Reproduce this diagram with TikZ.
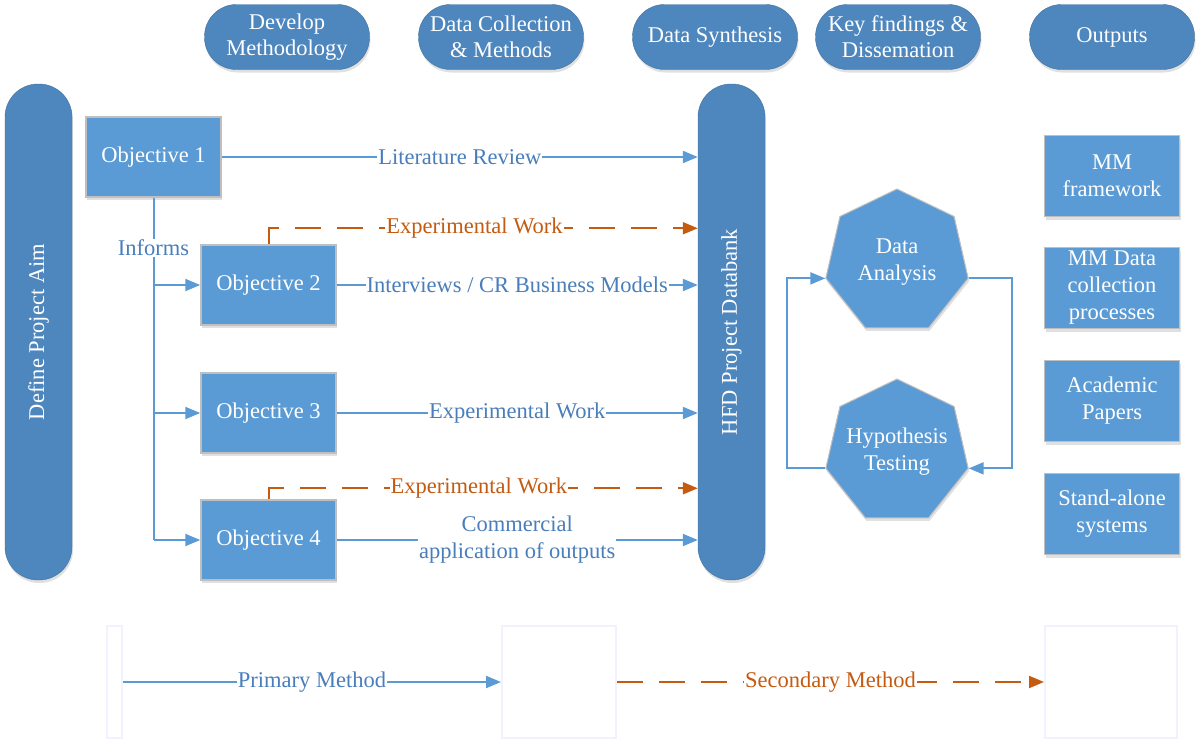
\documentclass[tikz,border=0pt]{standalone}
\usepackage{fontspec}
\setmainfont{Liberation Serif}
\usetikzlibrary{arrows.meta,shapes.geometric,shadows,positioning}

\definecolor{boxblue}{HTML}{5B9BD5}
\definecolor{pillblue}{HTML}{4E86BE}
\definecolor{pillline}{HTML}{41719C}
\definecolor{linkblue}{HTML}{5B9BD5}
\definecolor{textblue}{HTML}{4A7EBB}
\definecolor{secorange}{HTML}{C55A11}
\definecolor{boxline}{HTML}{BFBFBF}

\tikzset{
  softshadow/.style={drop shadow={shadow xshift=1pt,shadow yshift=-3pt,opacity=.12,fill=black}},
  pill/.style={draw=pillline, fill=pillblue, text=white, rounded corners=32pt,
    minimum width=165pt, minimum height=65pt, align=center, inner sep=0pt,
    font=\fontsize{22.5}{26}\selectfont, softshadow},
  vpill/.style={draw=pillline, fill=pillblue, text=white, rounded corners=33pt,
    minimum width=67pt, minimum height=496pt, inner sep=0pt, softshadow},
  objbox/.style={draw=boxline, line width=1.5pt, fill=boxblue, text=white,
    minimum width=135pt, minimum height=80pt, align=center, softshadow},
  outbox/.style={objbox, minimum height=81pt, inner sep=1pt},
  heptagon/.style={regular polygon, regular polygon sides=7, minimum size=146pt,
    inner sep=0pt, draw=boxline, line width=1pt, fill=boxblue, softshadow,
    label={[text=white, align=center]center:#1}},
  legbox/.style={draw=blue!5, line width=2pt, fill=white, minimum height=112pt},
  primary/.style={draw=linkblue, line width=2pt, -{Triangle[length=15pt,width=12pt]}},
  secondary/.style={draw=secorange, line width=2pt, dash pattern=on 26pt off 16pt,
    -{Triangle[length=15pt,width=12pt]}},
  tag/.style={fill=white, inner sep=1pt, text=textblue},
  otag/.style={fill=white, inner sep=1pt, text=secorange},
}

\begin{document}
\begin{tikzpicture}[x=1pt, y=-1pt, font=\fontsize{22.5}{27}\selectfont]
  \useasboundingbox (0,0) rectangle (1197,747);

  % stages
  \node[pill] (h1) at (287,37) {Develop\\Methodology};
  \node[pill] (h2) at (501,37) {Data Collection\\\& Methods};
  \node[pill] (h3) at (715,37) {Data Synthesis};
  \node[pill] (h4) at (898,37) {Key findings \&\\Dissemation};
  \node[pill] (h5) at (1112,37) {Outputs};

  \node[vpill] (aim) at (38.5,332) {\rotatebox{90}{Define Project Aim}};
  \node[vpill] (db) at (731.5,332) {\rotatebox{90}{HFD Project Databank}};

  \node[objbox] (o1) at (153.5,157) {Objective 1};
  \node[objbox] (o2) at (268.5,285) {Objective 2};
  \node[objbox] (o3) at (268.5,413) {Objective 3};
  \node[objbox] (o4) at (268.5,540) {Objective 4};

  \draw[linkblue, line width=2pt] (o1.south) -- (o1.south |- o4.west)
    node[tag, pos=.146] {Informs};
  \foreach \o in {o2,o3,o4}
    \draw[primary] (o1.south |- \o.west) -- (\o.west);

  \draw[primary] (o1.east) -- (o1.east -| db.west) node[tag, midway] {Literature Review};
  \draw[secondary] (o2.north) -- ++(0,-16) coordinate (e2) -- (e2 -| db.west)
    node[otag, pos=.48] {Experimental Work};
  \draw[primary] (o2.east) -- (o2.east -| db.west) node[tag, midway] {Interviews / CR Business Models};
  \draw[primary] (o3.east) -- (o3.east -| db.west) node[tag, midway] {Experimental Work};
  \draw[secondary] (o4.north) -- ++(0,-11) coordinate (e4) -- (e4 -| db.west)
    node[otag, pos=.49] {Experimental Work};
  \draw[primary] (o4.east) -- (o4.east -| db.west)
    node[tag, midway, align=center] {Commercial\\application of outputs};

  \node[heptagon={Data\\Analysis}] (da) at (897,262) {};
  \node[heptagon={Hypothesis\\Testing}] (ht) at (897,452) {};
  \draw[primary] (da.corner 6) -- ++(43,0) |- (ht.corner 6);
  \draw[primary] (ht.corner 3) -- ++(-38,0) |- (da.corner 3);

  \node[outbox] (p1) at (1112,176) {MM\\framework};
  \node[outbox] (p2) at (1112,288) {MM Data\\collection\\processes};
  \node[outbox] (p3) at (1112,401) {Academic\\Papers};
  \node[outbox] (p4) at (1112,514) {Stand-alone\\systems};

  % key
  \node[legbox, minimum width=15pt] (leg1) at (114.5,682) {};
  \node[legbox, minimum width=114pt] (leg2) at (559,682) {};
  \node[legbox, minimum width=132pt] (leg3) at (1111,682) {};
  \draw[primary] (leg1.east) -- (leg2.west) node[tag, midway] {Primary Method};
  \draw[secondary] (leg2.east) -- (leg3.west) node[otag, midway] {Secondary Method};
\end{tikzpicture}
\end{document}
